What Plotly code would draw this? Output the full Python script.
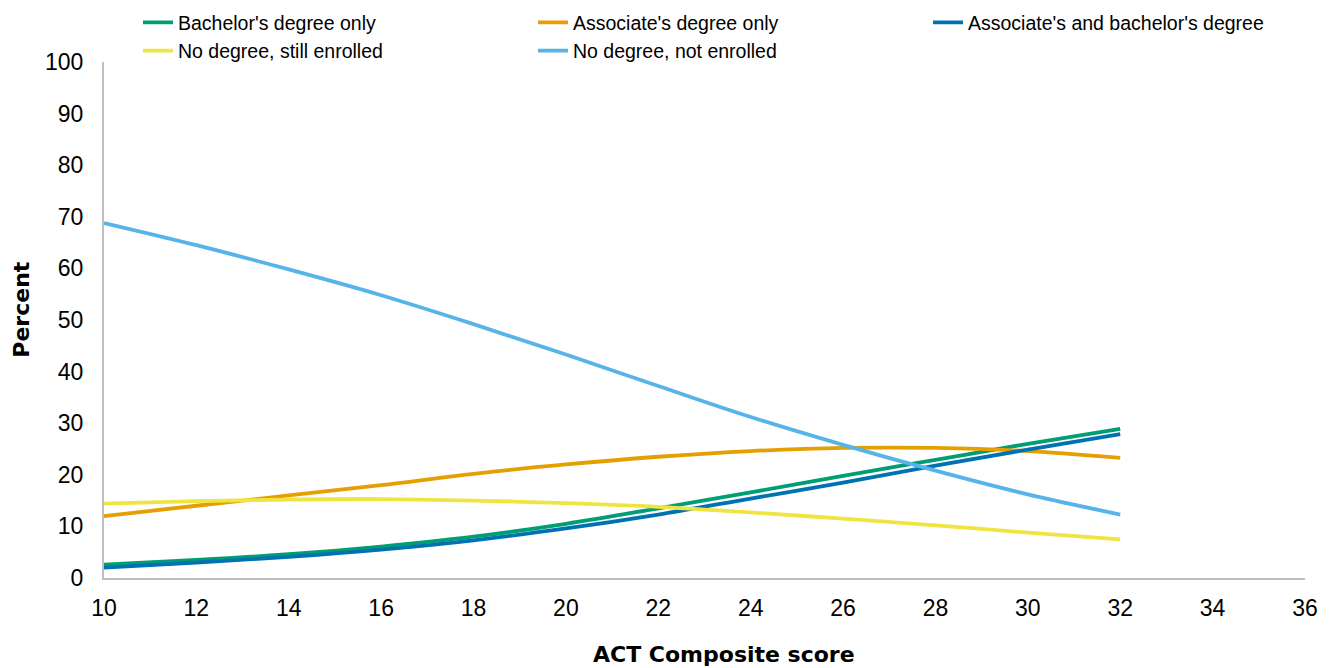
import plotly.graph_objects as go

scores = [10, 12, 14, 16, 18, 20, 22, 24, 26, 28, 30, 32]

bachelor_only = [2.6, 3.5, 4.6, 6.1, 8.0, 10.5, 13.5, 16.6, 19.8, 22.9, 26.0, 28.9]
associate_only = [12.0, 14.0, 16.0, 18.0, 20.2, 22.0, 23.5, 24.6, 25.2, 25.2, 24.6, 23.3]
assoc_and_bach = [2.0, 3.0, 4.1, 5.5, 7.3, 9.6, 12.3, 15.4, 18.5, 21.8, 24.9, 27.9]
no_deg_enrolled = [14.4, 14.9, 15.2, 15.3, 15.0, 14.5, 13.8, 12.7, 11.5, 10.2, 8.8, 7.5]
no_deg_not_enrolled = [68.8, 64.5, 59.8, 54.8, 49.2, 43.3, 37.2, 31.2, 25.8, 20.8, 16.2, 12.3]

series = [
    ("Bachelor's degree only", bachelor_only, "#009E73"),
    ("Associate's degree only", associate_only, "#E69F00"),
    ("Associate's and bachelor's degree", assoc_and_bach, "#0072B2"),
    ("No degree, still enrolled", no_deg_enrolled, "#F0E442"),
    ("No degree, not enrolled", no_deg_not_enrolled, "#56B4E9"),
]

x_ticks = list(range(10, 37, 2))
y_ticks = list(range(0, 101, 10))

fig = go.Figure()
for name, vals, color in series:
    fig.add_trace(go.Scatter(
        x=scores, y=vals, name=name, mode="lines",
        line=dict(color=color, width=3.8, shape="spline"),
    ))

font_main = "Arial, Liberation Sans, sans-serif"
title_font = dict(size=22, family="Arial Black, DejaVu Sans, sans-serif", color="#000000", weight="bold")
fig.update_layout(
    width=1323, height=660,
    margin=dict(l=96, r=26, t=54, b=90, autoexpand=False),
    paper_bgcolor="white", plot_bgcolor="white",
    font=dict(family=font_main, color="#000000"),
    showlegend=True,
    legend=dict(
        orientation="h", x=0.0283, xanchor="left", y=1.114, yanchor="top",
        font=dict(size=19.5, family=font_main, color="#000000"),
        entrywidth=395 / 1201, entrywidthmode="fraction",
        bgcolor="rgba(0,0,0,0)",
    ),
    xaxis=dict(
        range=[10, 36], tickvals=x_ticks, ticks="", showgrid=False, zeroline=False,
        showline=True, linecolor="#BFBFBF", linewidth=2,
        tickfont=dict(size=23, family=font_main, color="#000000"),
        ticklabelstandoff=8,
        fixedrange=True,
    ),
    yaxis=dict(
        range=[0, 100], tickvals=y_ticks, ticks="", showgrid=False, zeroline=False,
        showline=True, linecolor="#BFBFBF", linewidth=2,
        tickfont=dict(size=23, family=font_main, color="#000000"),
        ticklabelstandoff=14,
        fixedrange=True,
    ),
    annotations=[
        dict(text="ACT Composite score", xref="paper", yref="paper",
             x=0.516, y=0, xanchor="center", yanchor="middle", yshift=-76,
             showarrow=False, font=title_font),
        dict(text="Percent", xref="paper", yref="paper",
             x=-(104 - 22) / 1201, y=0.52, xanchor="center", yanchor="middle",
             textangle=-90, showarrow=False, font=title_font),
    ],
)

fig.write_html("out.html")
